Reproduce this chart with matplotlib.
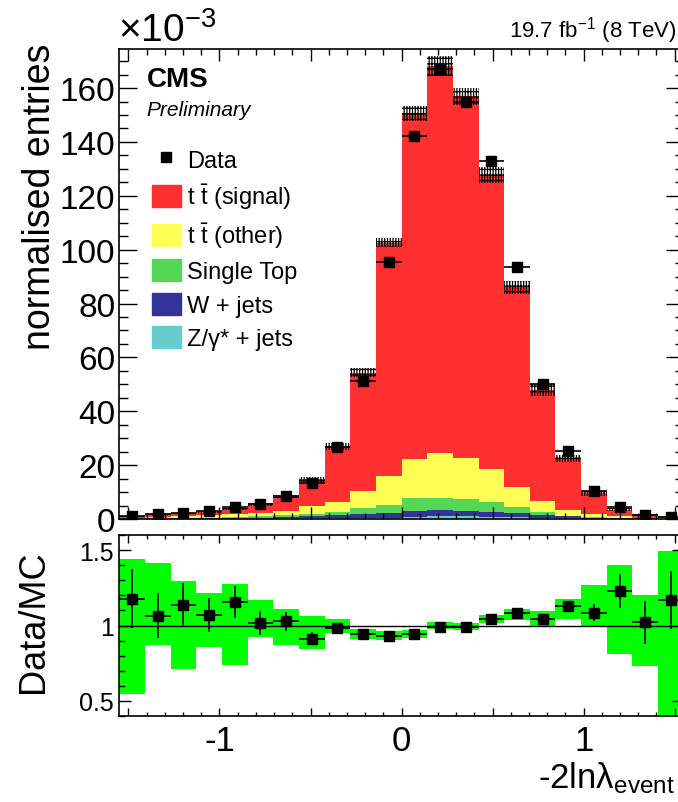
import numpy as np
import matplotlib
matplotlib.use("Agg")
import matplotlib.pyplot as plt
from matplotlib.patches import Patch
from matplotlib.lines import Line2D
from matplotlib.ticker import MultipleLocator, FixedLocator

plt.rcParams['font.family'] = ['Liberation Sans', 'DejaVu Sans']
plt.rcParams['mathtext.fontset'] = 'custom'
plt.rcParams['mathtext.rm'] = 'Liberation Sans'
plt.rcParams['mathtext.it'] = 'Liberation Sans:italic'
plt.rcParams['mathtext.bf'] = 'Liberation Sans:bold'
plt.rcParams['axes.unicode_minus'] = False
plt.rcParams['hatch.linewidth'] = 0.9

# 22 bins of -2ln(lambda_event), values in units of 1e-3
edges = np.linspace(-1.55, 1.55, 23)
centers = 0.5 * (edges[1:] + edges[:-1])
width = edges[1] - edges[0]

data = [1.2, 1.8, 2.3, 2.9, 4.4, 5.6, 8.5, 13.5, 26.6, 51.2, 95.4,
        142.3, 167.0, 154.9, 133.0, 93.4, 50.0, 25.2, 10.3, 4.3, 1.5, 0.9]
data_err = [0.2, 0.25, 0.29, 0.31, 0.40, 0.44, 0.53, 0.65, 0.76, 0.82, 1.2,
            1.5, 1.35, 1.26, 1.28, 1.03, 0.77, 0.74, 0.54, 0.39, 0.21, 0.15]

zjets = [0.05, 0.05, 0.08, 0.1, 0.12, 0.15, 0.2, 0.25, 0.3, 0.35, 0.5,
         0.9, 1.2, 1.0, 0.7, 0.6, 0.35, 0.25, 0.15, 0.08, 0.05, 0.03]
wjets = [0.1, 0.15, 0.17, 0.2, 0.28, 0.35, 0.5, 0.75, 1.2, 1.55, 1.7,
         2.1, 2.3, 2.1, 2.0, 1.5, 1.15, 0.75, 0.35, 0.17, 0.07, 0.05]
single_top = [0.1, 0.15, 0.2, 0.25, 0.35, 0.5, 0.7, 0.9, 1.2, 2.3, 3.1,
              4.7, 4.3, 4.3, 3.5, 2.4, 1.0, 0.2, 0.1, 0.1, 0.08, 0.02]
tt_other = [0.25, 0.45, 0.65, 0.95, 1.15, 1.3, 1.4, 2.8, 3.6, 6.1, 10.6,
            14.5, 16.6, 15.3, 12.4, 7.4, 4.1, 2.3, 1.3, 0.65, 0.3, 0.15]
tt_signal = [0.52, 0.89, 0.92, 1.21, 1.91, 3.22, 5.48, 10.1, 20.8, 44.1, 86.7,
             128.4, 143.8, 134.2, 109.0, 74.1, 41.2, 18.8, 7.6, 2.5, 0.97, 0.52]
mc_unc = [0.2, 0.25, 0.3, 0.35, 0.45, 0.5, 0.6, 0.9, 1.3, 1.5, 1.6,
          2.8, 3.6, 3.1, 3.0, 2.3, 2.2, 1.3, 0.9, 0.5, 0.3, 0.2]

# ratio panel uncertainty band
band_lo = [0.546, 0.870, 0.711, 0.859, 0.738, 0.921, 0.870, 0.844, 0.949, 0.910, 0.905,
           0.919, 0.976, 0.969, 1.015, 1.035, 1.000, 1.042, 1.000, 0.811, 0.729, 0.35]
band_hi = [1.438, 1.414, 1.295, 1.214, 1.273, 1.170, 1.108, 1.064, 1.042, 0.980, 0.963,
           0.971, 1.026, 1.018, 1.070, 1.108, 1.097, 1.174, 1.267, 1.399, 1.205, 1.496]

stack = [(zjets, '#66cccc', 'Z/γ* + jets'),
         (wjets, '#333399', 'W + jets'),
         (single_top, '#55d655', 'Single Top'),
         (tt_other, '#ffff55', r't $\bar{\mathrm{t}}$ (other)'),
         (tt_signal, '#ff3030', r't $\bar{\mathrm{t}}$ (signal)')]

fig = plt.figure(figsize=(6.78, 8.03), dpi=100)
ax1 = fig.add_axes([0.176, 0.3524, 0.8325, 0.5853])
ax2 = fig.add_axes([0.176, 0.1071, 0.8325, 0.2254])

bottom = np.zeros(len(centers))
for vals, col, lab in stack:
    ax1.bar(centers, vals, width=width, bottom=bottom, color=col, lw=0)
    bottom = bottom + np.array(vals)
mc = bottom

unc = np.array(mc_unc)
ax1.bar(centers, 2 * unc, width=width, bottom=mc - unc, fill=False,
        hatch='||||||---', edgecolor='black', lw=0)
ax1.errorbar(centers, data, xerr=width / 2, yerr=data_err, fmt='s', color='black',
             ms=6.5, elinewidth=1.2, capsize=0)

ax1.set_xlim(-1.55, 1.55)
ax1.set_ylim(0, 174.5)
ax1.xaxis.set_major_locator(MultipleLocator(0.5))
ax1.xaxis.set_minor_locator(MultipleLocator(0.1))
ax1.yaxis.set_major_locator(MultipleLocator(20))
ax1.yaxis.set_minor_locator(MultipleLocator(5))
ax1.tick_params(axis='x', which='both', direction='in', top=True, bottom=True, labelbottom=False)
ax1.tick_params(axis='x', which='major', length=8.5, width=1)
ax1.tick_params(axis='x', which='minor', length=4.3, width=1)
ax1.tick_params(axis='y', which='both', direction='in', left=True, right=True, labelsize=24, pad=3)
ax1.tick_params(axis='y', which='major', length=13, width=1)
ax1.tick_params(axis='y', which='minor', length=6.5, width=1)
for s in ax1.spines.values():
    s.set_linewidth(1.2)

handles = [Line2D([], [], marker='s', color='black', ls='none', ms=6.5)]
labels = ['Data']
for vals, col, lab in reversed(stack):
    handles.append(Patch(facecolor=col, edgecolor=col))
    labels.append(lab)
ax1.legend(handles, labels, loc='upper left', bbox_to_anchor=(0.0576, 0.79), frameon=False,
           fontsize=17, handlelength=1.23, handleheight=1.06, handletextpad=0.27,
           labelspacing=0.40, borderpad=0, borderaxespad=0)

ax1.text(0.048, 0.922, 'CMS', transform=ax1.transAxes, fontsize=20, fontweight='bold', va='baseline')
ax1.text(0.048, 0.86, 'Preliminary', transform=ax1.transAxes, fontsize=15, style='italic', va='baseline')

# ratio panel
ratio = np.array(data) / mc
ratio_err = np.array(data_err) / mc
lo = np.array(band_lo)
ax2.bar(centers, np.array(band_hi) - lo, width=width, bottom=lo, color='#00ff00', lw=0)
ax2.axhline(1.0, color='black', lw=1)
ax2.errorbar(centers, ratio, xerr=width / 2, yerr=ratio_err, fmt='s', color='black',
             ms=6.5, elinewidth=1.2, capsize=0)
ax2.set_xlim(-1.55, 1.55)
ax2.set_ylim(0.4, 1.6)
ax2.xaxis.set_minor_locator(MultipleLocator(0.1))
ax2.set_xticks([-1.5, -1, -0.5, 0, 0.5, 1, 1.5])
ax2.set_xticklabels(['', '-1', '', '0', '', '1', ''])
ax2.yaxis.set_major_locator(FixedLocator([0.5, 1.0, 1.5]))
ax2.set_yticklabels(['0.5', '1', '1.5'])
ax2.yaxis.set_minor_locator(MultipleLocator(0.1))
ax2.tick_params(axis='x', which='both', direction='in', top=True, bottom=True, labelsize=25, pad=6)
ax2.tick_params(axis='x', which='major', length=5.5, width=1)
ax2.tick_params(axis='x', which='minor', length=2.8, width=1)
ax2.tick_params(axis='y', which='both', direction='in', left=True, right=True, labelsize=18, pad=4)
ax2.tick_params(axis='y', which='major', length=8.6, width=1)
ax2.tick_params(axis='y', which='minor', length=4.3, width=1)
for s in ax2.spines.values():
    s.set_linewidth(1.2)

fig.text(40 / 678, 1 - 197 / 803, 'normalised entries', rotation=90, fontsize=27,
         ha='center', va='center')
fig.text(33 / 678, 1 - 622 / 803, 'Data/MC', rotation=90, fontsize=26,
         ha='center', va='center')
fig.text(675 / 678, 1 - 788 / 803, r'-2lnλ$_{\mathrm{event}}$', fontsize=25,
         ha='right', va='baseline')
fig.text(118 / 678, 1 - 42 / 803, r'$\times$10$^{-3}$', fontsize=28, ha='left', va='baseline')
fig.text(677 / 678, 1 - 37 / 803, r'19.7 fb$^{-1}$ (8 TeV)', fontsize=16, ha='right', va='baseline')

fig.savefig('out.png', dpi=100)
